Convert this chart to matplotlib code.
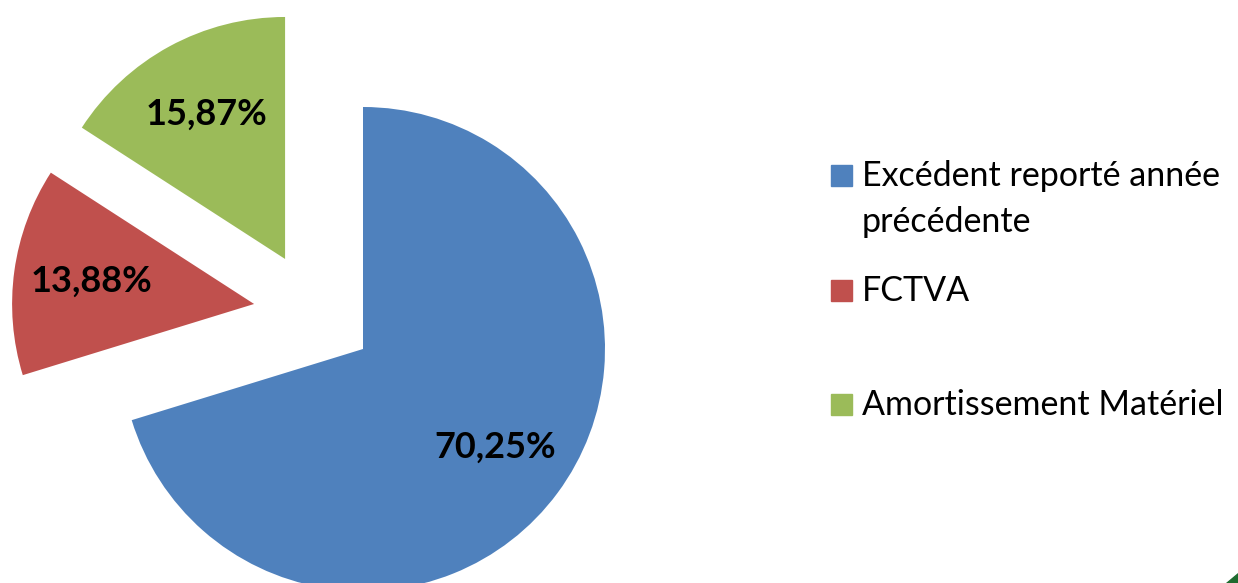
import matplotlib.pyplot as plt
from matplotlib.patches import Rectangle, Polygon

labels = ['Excédent reporté année\nprécédente', 'FCTVA', 'Amortissement Matériel']
values = [70.25, 13.88, 15.87]
colors = ['#4F81BD', '#C0504D', '#9BBB59']

# slice pull-out, in pie radii (x, y)
offsets = [(0.0, 0.0), (-0.450, 0.186), (-0.322, 0.372)]

W, H, DPI = 1238, 583, 100
R = 242            # pie radius, px
CX, CY = 363, 349  # pie centre, px from top left

plt.rcParams['font.family'] = ['Lato', 'DejaVu Sans']

fig = plt.figure(figsize=(W / DPI, H / DPI), dpi=DPI)
ax = fig.add_axes([0, 0, 1, 1])

wedges, texts, autotexts = ax.pie(
    values, colors=colors, startangle=90, counterclock=False,
    autopct=lambda p: ('%.2f%%' % p).replace('.', ','),
    pctdistance=0.68,
    textprops=dict(fontsize=26, fontweight='bold', color='black'))

# move the exploded slices (and their labels) like Excel does
for w, t, (dx, dy) in zip(wedges, autotexts, offsets):
    w.set_center((dx, dy))
    x, y = t.get_position()
    t.set_position((x + dx, y + dy))
    t.set_va('center')

ax.set_aspect('auto')
ax.set_xlim(-CX / R, (W - CX) / R)
ax.set_ylim(-(H - CY) / R, CY / R)
ax.axis('off')

# legend on the right, drawn by hand so the square sits on the first line
leg_x, sq = 831, 21
text_x = 862
baselines = [186, 301, 415]
line_step = 46
for label, color, base in zip(labels, colors, baselines):
    fig.patches.append(Rectangle((leg_x / W, 1 - base / H), sq / W, sq / H,
                                 transform=fig.transFigure, color=color))
    for k, line in enumerate(label.split('\n')):
        fig.text(text_x / W, 1 - (base + k * line_step) / H, line,
                 fontsize=24.5, va='baseline', ha='left')

# small dark green corner from the page behind
fig.patches.append(Polygon([(1226 / W, 0), (1, 0), (1, 10 / H)], closed=True,
                           transform=fig.transFigure, color='#1E6B2F'))

fig.savefig('out.png', dpi=DPI)
